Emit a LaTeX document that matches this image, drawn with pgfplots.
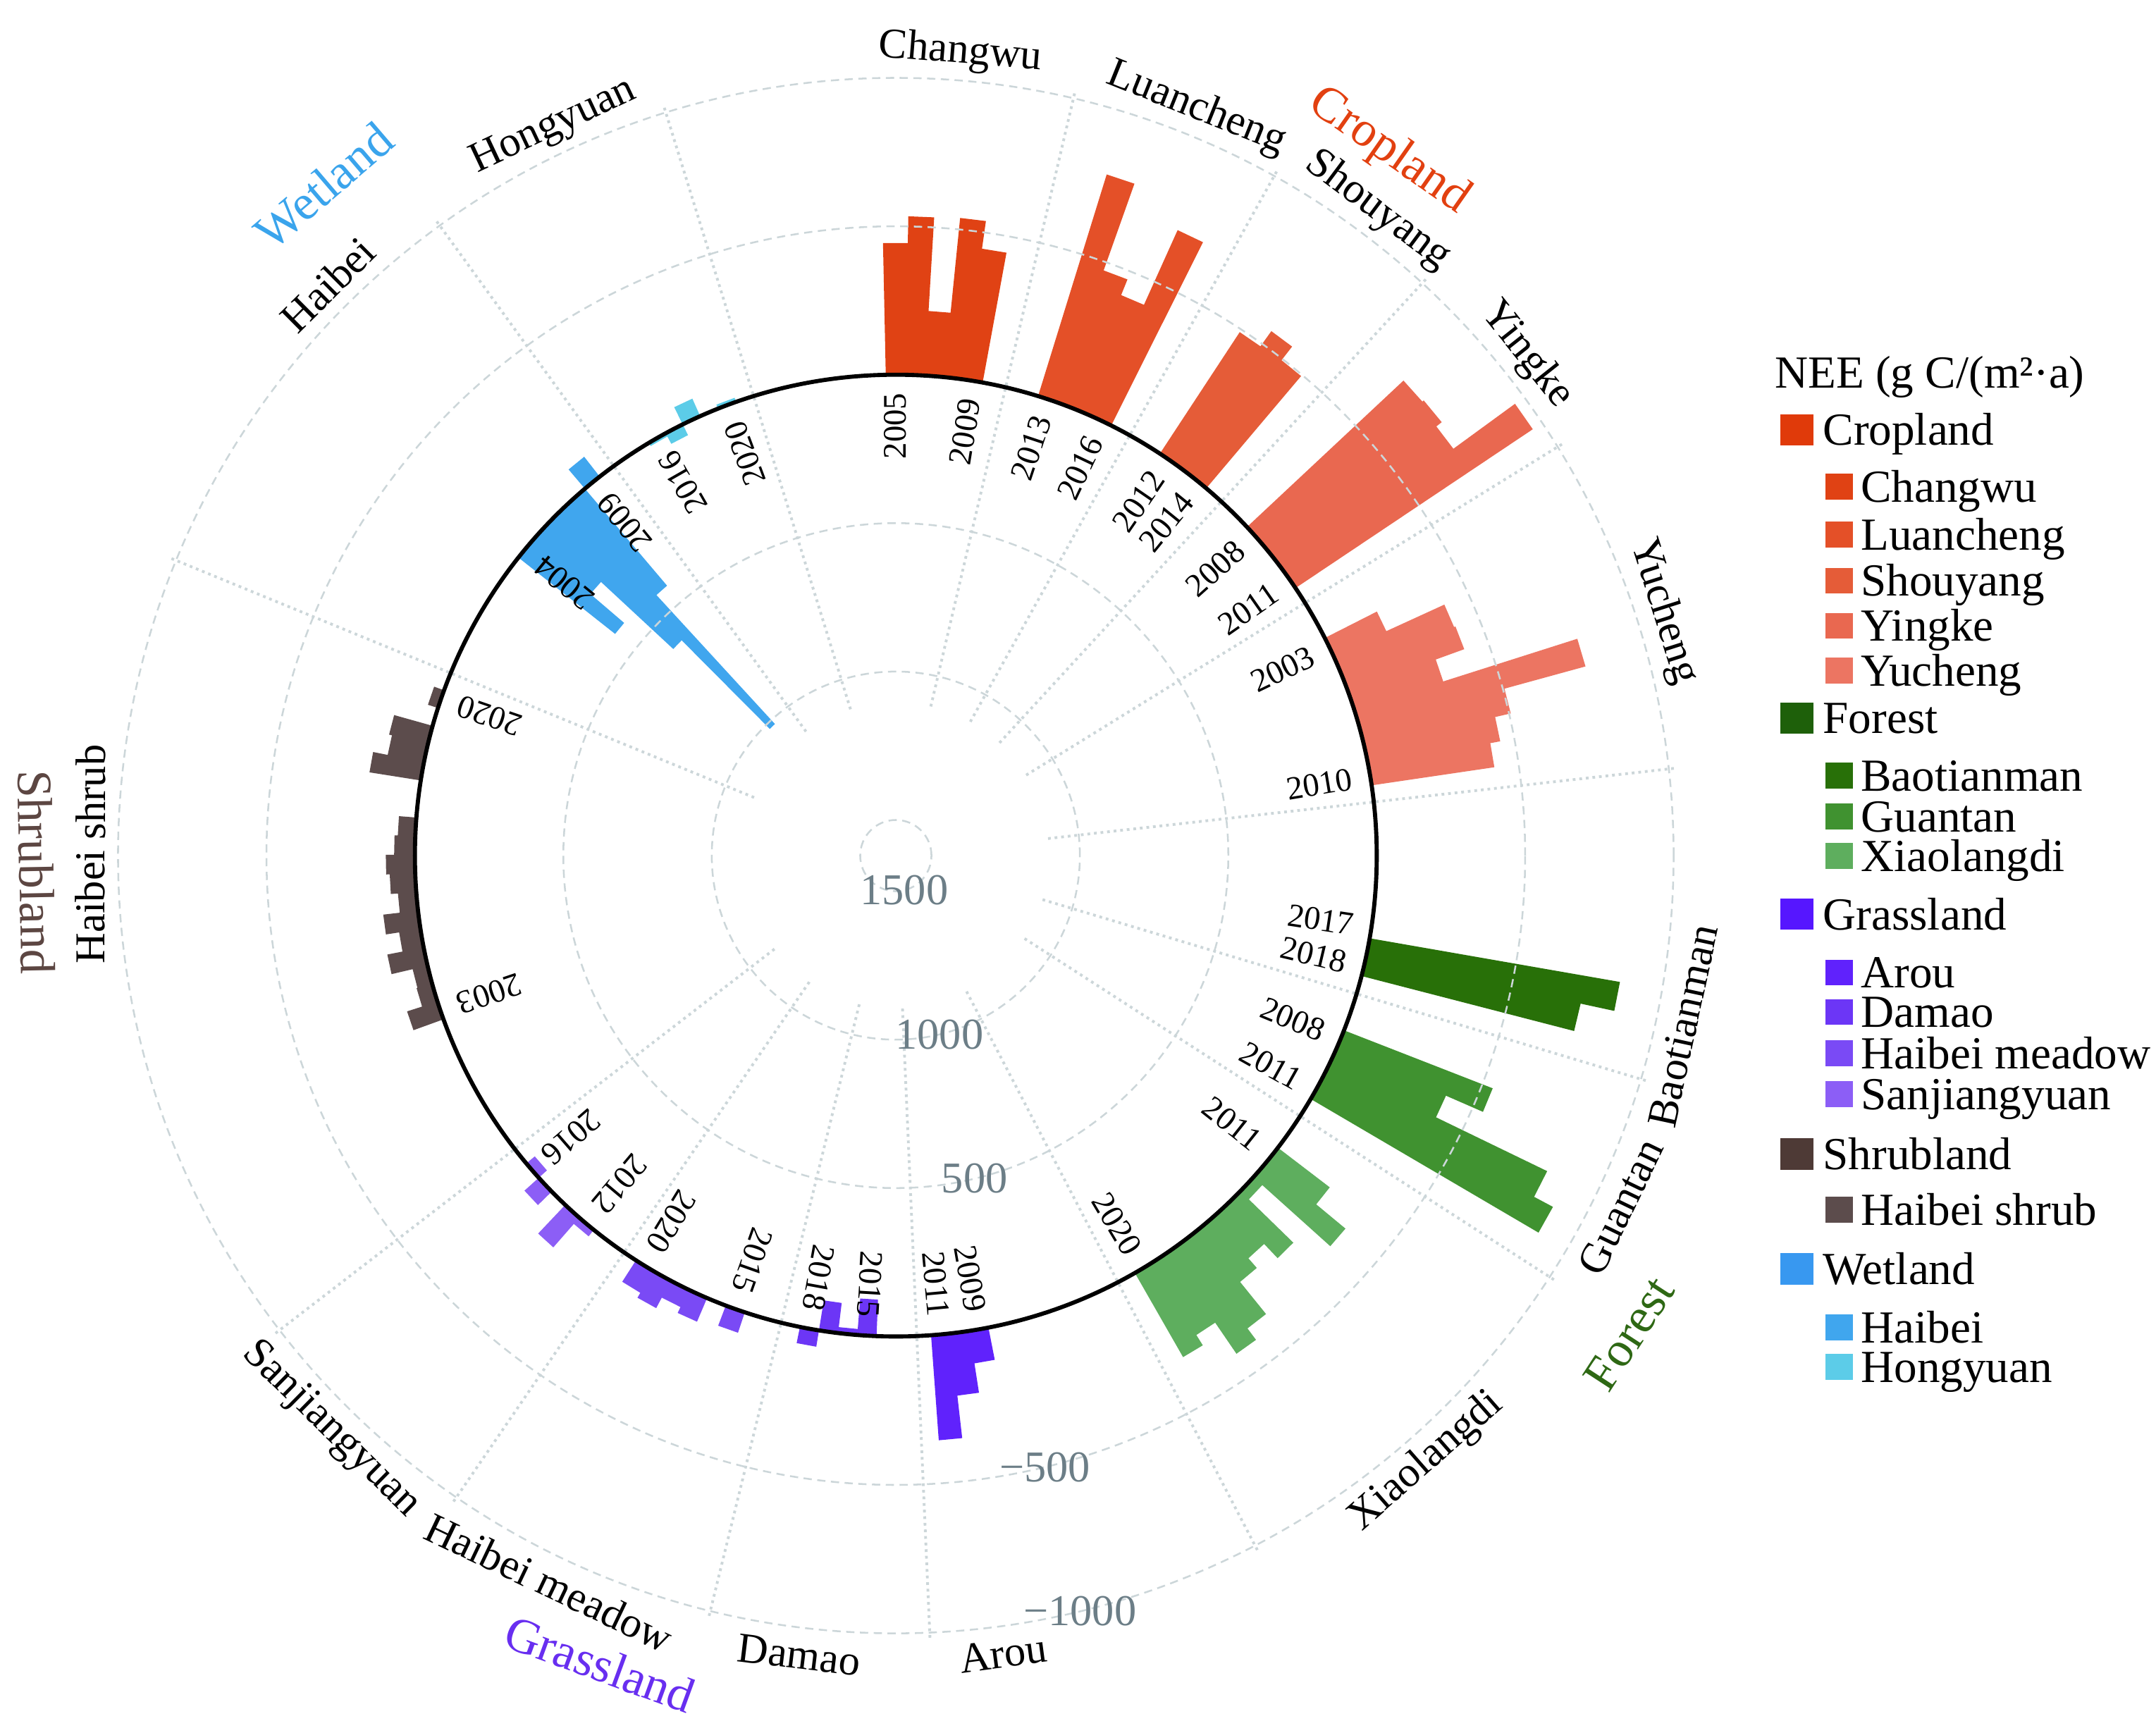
\documentclass[border=0pt]{standalone}
\usepackage{fontspec}
\setmainfont{Liberation Serif}
\usepackage{pgfplots}
\pgfplotsset{compat=1.18}

\definecolor{cCrop}{RGB}{224,58,10}
\definecolor{cChangwu}{RGB}{224,66,20}
\definecolor{cLuan}{RGB}{228,80,40}
\definecolor{cShou}{RGB}{229,92,56}
\definecolor{cYingke}{RGB}{233,104,80}
\definecolor{cYucheng}{RGB}{236,117,98}
\definecolor{cForest}{RGB}{30,96,10}
\definecolor{cBao}{RGB}{40,112,8}
\definecolor{cGuan}{RGB}{64,146,48}
\definecolor{cXiao}{RGB}{94,174,94}
\definecolor{cGrass}{RGB}{86,22,255}
\definecolor{cArou}{RGB}{96,34,252}
\definecolor{cDamao}{RGB}{108,54,246}
\definecolor{cHbm}{RGB}{122,74,245}
\definecolor{cSjy}{RGB}{140,94,246}
\definecolor{cShrub}{RGB}{78,58,54}
\definecolor{cHbs}{RGB}{92,76,76}
\definecolor{cWet}{RGB}{56,152,240}
\definecolor{cHbw}{RGB}{64,166,238}
\definecolor{cHong}{RGB}{92,204,232}
\definecolor{tCrop}{RGB}{226,64,16}
\definecolor{tForest}{RGB}{46,104,20}
\definecolor{tGrass}{RGB}{104,46,240}
\definecolor{tShrub}{RGB}{92,70,66}
\definecolor{tWet}{RGB}{58,164,236}
\definecolor{gridc}{RGB}{204,214,217}
\definecolor{ticklab}{RGB}{108,126,135}

\tikzset{
  yl/.style={font=\fontsize{12}{12}\selectfont, inner sep=0pt},
  sl/.style={font=\fontsize{15.5}{15.5}\selectfont, inner sep=0pt},
  gl/.style={font=\fontsize{18}{18}\selectfont, inner sep=0pt},
  rl/.style={font=\fontsize{16}{16}\selectfont, text=ticklab, inner sep=0pt},
}
% year label: bearing (clockwise from north), text
\newcommand{\yr}[2]{\node[yl, rotate={90-(#1)}, anchor=east] at ({90-(#1)}:1560) {#2};}
% site label: bearing, rotation, text
\newcommand{\site}[3]{\node[sl, rotate=#2] at ({90-(#1)}:2713) {#3};}
% group label: bearing, radius, rotation, colour, text
\newcommand{\grp}[5]{\node[gl, text=#4, rotate=#3] at ({90-(#1)}:#2) {#5};}

\newcommand{\leghdr}[3]{%
  \addlegendimage{legend image code/.code={\path (0pt,0pt) (25.9pt,0pt); \fill[#1] (0pt,0.1pt) rectangle (11.65pt,11.1pt);}}
  \addlegendentry{\rule[-2pt]{0pt}{#2}\hspace*{-13.8pt}\smash{#3}}}
\newcommand{\legsub}[3]{%
  \addlegendimage{legend image code/.code={\path (0pt,0pt) (25.9pt,0pt); \fill[#1] (16.4pt,1.1pt) rectangle (25.9pt,10.1pt);}}
  \addlegendentry{\rule[-2pt]{0pt}{#2}\smash{#3}}}

\pgfplotsset{
  sector/.style={draw=none, forget plot, data cs=polar},
}

\begin{document}
\begin{tikzpicture}
\begin{axis}[
  x=0.10795pt, y=0.10795pt,
  xmin=-3000, xmax=3000, ymin=-3000, ymax=3000,
  hide axis, clip=false,
  legend style={
    at={(axis cs:2979.2,1668)}, anchor=north west,
    draw=none, fill=none, inner sep=0pt, outer sep=0pt,
    font=\fontsize{16.7}{16.7}\selectfont,
    row sep=0pt, column sep=3.05pt,
    nodes={inner sep=0pt, outer sep=0pt},
    cells={anchor=base west},
  },
]
\coordinate (C) at (axis cs:0,0);

% ---------------- Cropland ----------------
% Changwu 2005-2009
\addplot[sector, fill=cChangwu] table[x expr=90-\thisrow{b}, y expr=1620-\thisrow{v}] {
b v
-1.2 0
-1.2 -444
1.12 -444
1.12 -534
3.44 -534
3.44 -218
5.76 -218
5.76 -539
8.08 -539
8.08 -445
10.4 -445
10.4 0
8.08 0
5.76 0
3.44 0
1.12 0
};
% Luancheng 2013-2016
\addplot[sector, fill=cLuan] table[x expr=90-\thisrow{b}, y expr=1620-\thisrow{v}] {
b v
17.2 0
17.2 -782
19.55 -782
19.55 -472
21.9 -472
21.9 -415
24.25 -415
24.25 -691
26.6 -691
26.6 0
24.25 0
21.9 0
19.55 0
};
% Shouyang 2012-2014
\addplot[sector, fill=cShou] table[x expr=90-\thisrow{b}, y expr=1620-\thisrow{v}] {
b v
33.3 0
33.3 -490
35.6 -490
35.6 -553
37.9 -553
37.9 -495
40.2 -495
40.2 0
37.9 0
35.6 0
};
% Yingke 2008-2011
\addplot[sector, fill=cYingke] table[x expr=90-\thisrow{b}, y expr=1620-\thisrow{v}] {
b v
46.9 0
46.9 -722
49.23 -722
49.23 -728
51.55 -728
51.55 -705
53.88 -705
53.88 -962
56.2 -962
56.2 0
53.88 0
51.55 0
49.23 0
};
% Yucheng 2003-2010
\addplot[sector, fill=cYucheng] table[x expr=90-\thisrow{b}, y expr=1620-\thisrow{v}] {
b v
63.1 0
63.1 -197
65.41 -197
65.41 -412
67.73 -412
67.73 -417
70.04 -417
70.04 -315
72.35 -315
72.35 -789
74.66 -789
74.66 -506
76.98 -506
76.98 -452
79.29 -452
79.29 -418
81.6 -418
81.6 0
79.29 0
76.98 0
74.66 0
72.35 0
70.04 0
67.73 0
65.41 0
};
% ---------------- Forest ----------------
% Baotianman 2017-2018
\addplot[sector, fill=cBao] table[x expr=90-\thisrow{b}, y expr=1620-\thisrow{v}] {
b v
99.9 0
99.9 -856
102.2 -856
102.2 -740
104.5 -740
104.5 0
102.2 0
};
% Guantan 2008-2011
\addplot[sector, fill=cGuan] table[x expr=90-\thisrow{b}, y expr=1620-\thisrow{v}] {
b v
111.3 0
111.3 -538
113.58 -538
113.58 -402
115.85 -402
115.85 -818
118.13 -818
118.13 -890
120.4 -890
120.4 0
118.13 0
115.85 0
113.58 0
};
% Xiaolangdi 2011-2020
\addplot[sector, fill=cXiao] table[x expr=90-\thisrow{b}, y expr=1620-\thisrow{v}] {
b v
127.4 0
127.4 -220
129.68 -220
129.68 -348
131.96 -348
131.96 -40
134.24 -40
134.24 -249
136.52 -249
136.52 -183
138.8 -183
138.8 -226
141.08 -226
141.08 -365
143.36 -365
143.36 -413
145.64 -413
145.64 -286
147.92 -286
147.92 -327
150.2 -327
150.2 0
147.92 0
145.64 0
143.36 0
141.08 0
138.8 0
136.52 0
134.24 0
131.96 0
129.68 0
};
% ---------------- Grassland ----------------
% Arou 2009-2011
\addplot[sector, fill=cArou] table[x expr=90-\thisrow{b}, y expr=1620-\thisrow{v}] {
b v
168.9 0
168.9 -111
171.2 -111
171.2 -211
173.5 -211
173.5 -355
175.8 -355
175.8 0
173.5 0
171.2 0
};
% Damao 2015-2018
\addplot[sector, fill=cDamao] table[x expr=90-\thisrow{b}, y expr=1620-\thisrow{v}] {
b v
182.3 0
182.3 123
184.6 123
184.6 20
186.9 20
186.9 102
189.2 102
189.2 -56
191.5 -56
191.5 0
189.2 0
186.9 0
184.6 0
};
% Haibei meadow 2015-2020
\addplot[sector, fill=cHbm] table[x expr=90-\thisrow{b}, y expr=1620-\thisrow{v}] {
b v
198.3 0
198.3 -73
200.7 -73
200.7 0
203.1 0
203.1 -87
205.5 -87
205.5 -65
207.9 -65
207.9 -105
210.3 -105
210.3 -86
212.7 -86
212.7 0
210.3 0
207.9 0
205.5 0
203.1 0
200.7 0
};
% Sanjiangyuan 2012-2016
\addplot[sector, fill=cSjy] table[x expr=90-\thisrow{b}, y expr=1620-\thisrow{v}] {
b v
218.9 0
218.9 -28
221.16 -28
221.16 -133
223.42 -133
223.42 -3
225.68 -3
225.68 -65
227.94 -65
227.94 37
230.2 37
230.2 0
227.94 0
225.68 0
223.42 0
221.16 0
};
% ---------------- Shrubland ----------------
% Haibei shrub 2003-2020
\addplot[sector, fill=cHbs] table[x expr=90-\thisrow{b}, y expr=1620-\thisrow{v}] {
b v
250.1 0
250.1 -108
252.32 -108
252.32 -55
254.54 -55
254.54 -52
256.77 -52
256.77 -125
258.99 -125
258.99 -73
261.21 -73
261.21 -118
263.43 -118
263.43 -62
265.65 -62
265.65 -86
267.88 -86
267.88 -98
270.1 -98
270.1 -70
272.32 -70
272.32 -59
274.54 -59
274.54 0
276.76 0
276.76 0
278.99 0
278.99 -175
281.21 -175
281.21 -125
283.43 -125
283.43 -135
285.65 -135
285.65 0
287.87 0
287.87 -36
290.1 -36
290.1 0
287.87 0
285.65 0
283.43 0
281.21 0
278.99 0
276.76 0
274.54 0
272.32 0
270.1 0
267.88 0
265.65 0
263.43 0
261.21 0
258.99 0
256.77 0
254.54 0
252.32 0
};
% ---------------- Wetland ----------------
% Haibei 2004-2009
\addplot[sector, fill=cHbw] table[x expr=90-\thisrow{b}, y expr=1620-\thisrow{v}] {
b v
308.3 0
308.3 415
310.58 415
310.58 265
312.87 265
312.87 597
315.15 597
315.15 1018
317.43 1018
317.43 428
319.72 428
319.72 -85
322.0 -85
322.0 0
319.72 0
317.43 0
315.15 0
312.87 0
310.58 0
};
% Hongyuan 2016-2020
\addplot[sector, fill=cHong] table[x expr=90-\thisrow{b}, y expr=1620-\thisrow{v}] {
b v
329.1 0
329.1 12
331.4 12
331.4 40
333.7 40
333.7 -65
336.0 -65
336.0 0
338.3 0
338.3 -15
340.6 -15
340.6 0
338.3 0
336.0 0
333.7 0
331.4 0
};

% ---------------- Legend ----------------
\addlegendimage{empty legend}
\addlegendentry{\rule[-2pt]{0pt}{12pt}\hspace*{-31.3pt}\smash{NEE (g C/(m²·a)}}
\leghdr{cCrop}{21.3pt}{Cropland}
\legsub{cChangwu}{21.2pt}{Changwu}
\legsub{cLuan}{17.9pt}{Luancheng}
\legsub{cShou}{17.3pt}{Shouyang}
\legsub{cYingke}{16.9pt}{Yingke}
\legsub{cYucheng}{16.8pt}{Yucheng}
\leghdr{cForest}{17.8pt}{Forest}
\legsub{cBao}{21.3pt}{Baotianman}
\legsub{cGuan}{15.4pt}{Guantan}
\legsub{cXiao}{14.9pt}{Xiaolangdi}
\leghdr{cGrass}{21.7pt}{Grassland}
\legsub{cArou}{21.7pt}{Arou}
\legsub{cDamao}{14.9pt}{Damao}
\legsub{cHbm}{15.4pt}{Haibei meadow}
\legsub{cSjy}{15.4pt}{Sanjiangyuan}
\leghdr{cShrub}{22.3pt}{Shrubland}
\legsub{cHbs}{20.7pt}{Haibei shrub}
\leghdr{cWet}{22.1pt}{Wetland}
\legsub{cHbw}{21.7pt}{Haibei}
\legsub{cHong}{15.0pt}{Hongyuan}
\end{axis}

\begin{scope}[shift={(C)}, x=0.10795pt, y=0.10795pt]
  % dashed value circles
  \foreach \r in {120,620,1120,2120,2620}
    \draw[gridc, line width=0.65pt, dash pattern=on 3pt off 2pt] (0,0) circle [radius=\r];
  % dotted radial separators
  \foreach \b in {342.8,13.2,29.1,42.6,58.3,83.6,106.7,122.8,152.5,177.5,193.8,214.4,232.4,292.3,324.1}
    \draw[gridc, line width=1pt, dash pattern=on 1pt off 1.4pt] ({90-\b}:516) -- ({90-\b}:2640);
  % zero line
  \draw[black, line width=1.5pt] (0,0) circle [radius=1620];
  % radial value labels
  \node[rl] at (-76.3:120) {1500};
  \node[rl] at (-76.3:620) {1000};
  \node[rl] at (-76.3:1120) {500};
  \node[rl] at (-76.3:2120) {−500};
  \node[rl] at (-76.3:2620) {−1000};
  % year labels
  \yr{-0.04}{2005} \yr{9.24}{2009}
  \yr{18.375}{2013} \yr{25.425}{2016}
  \yr{34.45}{2012} \yr{39.05}{2014}
  \yr{48.06}{2008} \yr{55.04}{2011}
  \yr{64.26}{2003} \yr{80.44}{2010}
  \yr{98.6}{2017} \yr{103.35}{2018}
  \yr{112.44}{2008} \yr{119.26}{2011}
  \yr{128.54}{2011} \yr{149.06}{2020}
  \yr{170.05}{2009} \yr{174.65}{2011}
  \yr{183.45}{2015} \yr{190.35}{2018}
  \yr{199.5}{2015} \yr{211.5}{2020}
  \yr{220.03}{2012} \yr{229.07}{2016}
  \yr{251.21}{2003} \yr{288.99}{2020}
  \yr{309.44}{2004} \yr{320.86}{2009}
  \yr{330.25}{2016} \yr{339.45}{2020}
  % site labels
  \site{4.6}{-4.6}{Changwu}
  \site{21.9}{-21.9}{Luancheng}
  \site{36.75}{-36.75}{Shouyang}
  \site{51.55}{-51.55}{Yingke}
  \site{72.35}{-72.35}{Yucheng}
  \site{102.2}{77.8}{Baotianman}
  \site{115.85}{64.15}{Guantan}
  \site{138.8}{41.2}{Xiaolangdi}
  \site{172.35}{7.65}{Arou}
  \site{186.9}{-6.9}{Damao}
  \site{205.5}{-25.5}{Haibei meadow}
  \site{224.55}{-44.55}{Sanjiangyuan}
  \site{270.1}{89.9}{Haibei shrub}
  \site{315.15}{44.85}{Haibei}
  \site{334.85}{25.15}{Hongyuan}
  % group labels
  \grp{35.0}{2896}{-35}{tCrop}{Cropland}
  \grp{123.1}{2949}{56.9}{tForest}{Forest}
  \grp{200.1}{2900}{-20.1}{tGrass}{Grassland}
  \grp{268.9}{2895}{-88.9}{tShrub}{Shrubland}
  \grp{319.5}{2968}{40.5}{tWet}{Wetland}
\end{scope}

\pgfresetboundingbox
\path[use as bounding box, shift={(C)}, x=0.10795pt, y=0.10795pt] (-3017.6,2882.4) rectangle (4245.0,-2913.0);
\end{tikzpicture}
\end{document}
